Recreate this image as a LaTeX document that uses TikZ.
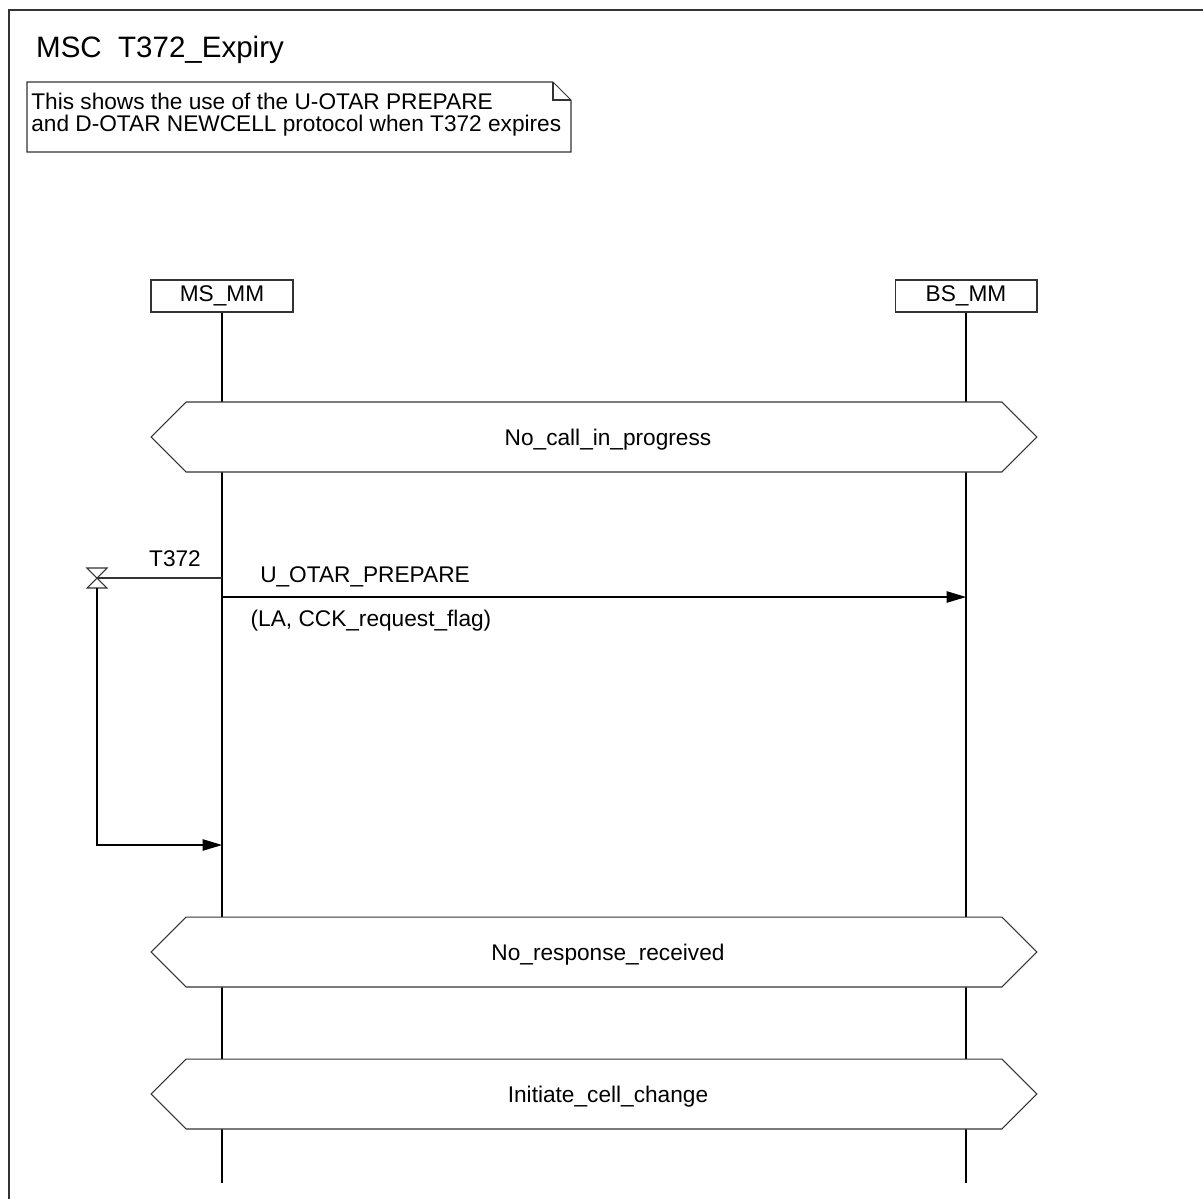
\documentclass[tikz,border=0pt]{standalone}
\usepackage{fontspec}
\setmainfont{Liberation Sans}
\usetikzlibrary{shapes.symbols,arrows.meta}
\begin{document}
\begin{tikzpicture}[x=0.02cm,y=-0.02cm,font=\fontsize{12.9}{12.6}\selectfont,>={Triangle[length=11pt,width=6.5pt]}]
  \definecolor{ink}{HTML}{333333}
  \tikzset{inst/.style={draw=ink,line width=0.6pt,minimum width=2.84cm,minimum height=0.64cm,inner sep=0pt},
    cond/.style={draw=ink,fill=white,line width=0.6pt,shape=signal,signal to=west and east,signal pointer angle=90,minimum width=17.72cm,minimum height=1.4cm,inner sep=0pt,outer sep=0pt},
    condtext/.style={xshift=0.28cm,yshift=-0.05cm},
    life/.style={draw=black,line width=0.6pt}}
  \useasboundingbox (0,0) rectangle (1203,1198);
  \draw[ink,line width=0.8pt] (9,1260) -- (9,10) -- (1260,10);
  \node[anchor=west,font=\fontsize{16.8}{20}\selectfont] (title) at (30,50) {MSC\ \ T372\_Expiry};
  \draw[ink,line width=0.6pt] (27,82) -- (553,82) -- (571,100) -- (571,152) -- (27,152) -- cycle;
  \draw[ink,line width=0.6pt] (553,82) -- (553,100) -- (571,100);
  \node[anchor=west,align=left,inner sep=0pt] (note) at (31,115) {This shows the use of the U-OTAR PREPARE\\and D-OTAR NEWCELL protocol when T372 expires};
  \node[inst] (ms) at (222,296) {MS\_MM};
  \node[inst] (bs) at (966,296) {BS\_MM};
  \draw[life] (ms.south) -- (ms |- 0,1183);
  \draw[life] (bs.south) -- (bs |- 0,1183);
  \node[cond,label={[condtext]center:No\_call\_in\_progress}] (nocall) at (594,437) {};
  \node[cond,label={[condtext]center:No\_response\_received}] (noresp) at (594,952) {};
  \node[cond,label={[condtext]center:Initiate\_cell\_change}] (cellchg) at (594,1094) {};
  \coordinate (t372) at (97,578);
  \draw[ink,line width=0.6pt] (t372) ++(-10,-10) -- ++(20,0) -- ++(-20,20) -- ++(20,0) -- cycle;
  \draw[ink,line width=0.6pt] (ms |- t372) -- (t372);
  \node (t372lbl) at (175,559) {T372};
  \draw[->,line width=0.6pt] (t372) ++(0,10) |- (ms |- 0,845);
  \draw[->,line width=0.6pt] (ms |- 0,597) -- (bs |- 0,597);
  \node (uotar) at (365,577) {U\_OTAR\_PREPARE};
  \node (uparams) at (371,621) {(LA, CCK\_request\_flag)};
\end{tikzpicture}
\end{document}
